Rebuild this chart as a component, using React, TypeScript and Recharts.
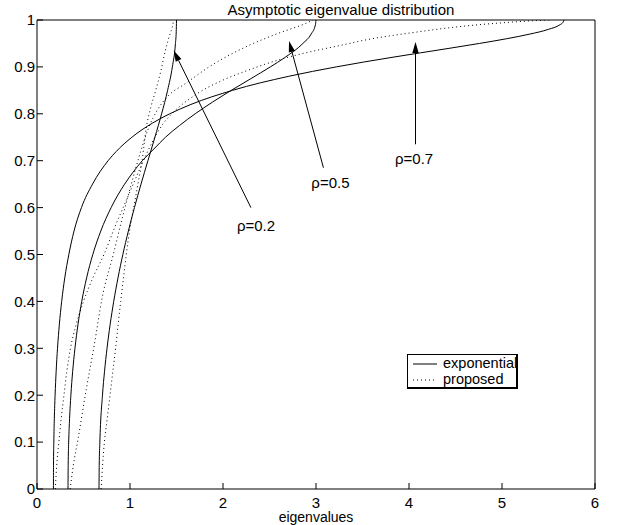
import React from "react";
import { Legend, Line, LineChart, ReferenceDot, ReferenceLine, XAxis, YAxis } from "recharts";

// exponential correlation model, eigenvalue CDF [eigenvalue, fraction]
const exp02: [number, number][] = [
  [0.6667, 0], [0.669, 0.05], [0.6759, 0.1], [0.704, 0.2], [0.7257, 0.25], [0.7529, 0.3],
  [0.7859, 0.35], [0.825, 0.4], [0.8707, 0.45], [0.9231, 0.5], [0.9822, 0.55], [1.0476, 0.6],
  [1.1184, 0.65], [1.1927, 0.7], [1.2678, 0.75], [1.34, 0.8], [1.4044, 0.85], [1.4554, 0.9],
  [1.4886, 0.95], [1.4971, 0.975], [1.5, 1],
];
const exp05: [number, number][] = [
  [0.3333, 0], [0.3352, 0.05], [0.3407, 0.1], [0.3503, 0.15], [0.3643, 0.2], [0.3832, 0.25],
  [0.4081, 0.3], [0.4401, 0.35], [0.4811, 0.4], [0.5333, 0.45], [0.6, 0.5], [0.6858, 0.55],
  [0.797, 0.6], [0.942, 0.65], [1.031, 0.675], [1.1326, 0.7], [1.257, 0.725], [1.3815, 0.75],
  [1.532, 0.775], [1.7007, 0.8], [1.8875, 0.825], [2.089, 0.85], [2.3, 0.875], [2.509, 0.9],
  [2.665, 0.92], [2.859, 0.95], [2.948, 0.97], [2.994, 0.99], [3, 1],
];
const exp07: [number, number][] = [
  [0.1765, 0], [0.1775, 0.05], [0.1808, 0.1], [0.1863, 0.15], [0.1945, 0.2], [0.2057, 0.25],
  [0.2205, 0.3], [0.2399, 0.35], [0.2653, 0.4], [0.2984, 0.45], [0.3423, 0.5], [0.3981, 0.55],
  [0.4778, 0.6], [0.5969, 0.65], [0.7645, 0.7], [0.8534, 0.72], [1.02, 0.75], [1.24, 0.78],
  [1.427, 0.8], [1.656, 0.82], [2.102, 0.85], [2.708, 0.88], [3.218, 0.9], [3.806, 0.92],
  [4.123, 0.93], [4.757, 0.95], [5.048, 0.96], [5.3, 0.97], [5.498, 0.98], [5.624, 0.99],
  [5.656, 0.995], [5.667, 1],
];

// proposed model
const prop02: [number, number][] = [
  [0.69, 0], [0.705, 0.05], [0.725, 0.1], [0.755, 0.15], [0.785, 0.2], [0.815, 0.25],
  [0.845, 0.3], [0.872, 0.35], [0.9, 0.4], [0.93, 0.45], [0.96, 0.5], [0.995, 0.55],
  [1.04, 0.6], [1.085, 0.65], [1.13, 0.7], [1.175, 0.77], [1.224, 0.814], [1.276, 0.85],
  [1.33, 0.89], [1.38, 0.935], [1.43, 0.97], [1.455, 0.985], [1.47, 1],
];
const prop05: [number, number][] = [
  [0.357, 0], [0.39, 0.05], [0.44, 0.105], [0.53, 0.213], [0.615, 0.306], [0.7, 0.407],
  [0.82, 0.5], [0.92, 0.58], [1.0, 0.64], [1.1, 0.71], [1.2, 0.77], [1.3, 0.81],
  [1.41, 0.838], [1.6, 0.865], [1.85, 0.9], [2.27, 0.945], [2.6, 0.972], [2.88, 0.992],
  [2.97, 1],
];
const prop07: [number, number][] = [
  [0.197, 0], [0.212, 0.05], [0.235, 0.1], [0.26, 0.15], [0.29, 0.2], [0.32, 0.25],
  [0.36, 0.3], [0.42, 0.35], [0.5, 0.4], [0.6, 0.45], [0.72, 0.5], [0.84, 0.56],
  [0.97, 0.62], [1.1, 0.68], [1.24, 0.74], [1.36, 0.78], [1.45, 0.8], [1.7, 0.84],
  [1.99, 0.871], [2.19, 0.887], [2.6, 0.915], [3.0, 0.935], [3.22, 0.944], [3.6, 0.96],
  [4.0, 0.972], [4.5, 0.985], [5.0, 0.994], [5.3, 0.998], [5.5, 1],
];

const xTicks = [0, 1, 2, 3, 4, 5, 6];
const yTicks = [0, 0.1, 0.2, 0.3, 0.4, 0.5, 0.6, 0.7, 0.8, 0.9, 1];
const legendItems = [
  { name: "exponential", dash: undefined },
  { name: "proposed", dash: "1 3" },
];
// arrow annotations: tail -> tip, text position (data units)
const notes = [
  { label: "ρ=0.2", tail: [2.3, 0.6], tip: [1.47, 0.935], text: [2.15, 0.55] },
  { label: "ρ=0.5", tail: [3.08, 0.685], tip: [2.71, 0.955], text: [2.95, 0.642] },
  { label: "ρ=0.7", tail: [4.07, 0.735], tip: [4.07, 0.953], text: [3.85, 0.692] },
];

const font = "'Liberation Sans', Arial, Helvetica, sans-serif";
const toPts = (a: [number, number][]) => a.map(([x, y]) => ({ x, y }));

const Arrow = (props: any) => {
  const { x1, y1, x2, y2 } = props;
  const ang = Math.atan2(y2 - y1, x2 - x1);
  const len = 11;
  const half = 3.2;
  const bx = x2 - len * Math.cos(ang);
  const by = y2 - len * Math.sin(ang);
  const px = -Math.sin(ang) * half;
  const py = Math.cos(ang) * half;
  return (
    <g>
      <line x1={x1} y1={y1} x2={bx} y2={by} stroke="#000" strokeWidth={1} />
      <path d={`M${x2},${y2}L${bx + px},${by + py}L${bx - px},${by - py}Z`} fill="#000" />
    </g>
  );
};

const LegendBox = () => (
  <div
    style={{
      position: "relative",
      background: "#fff",
      borderTop: "1px solid #000",
      borderLeft: "1px solid #000",
      borderRight: "2px solid #000",
      borderBottom: "2px solid #000",
      width: 111,
      height: 35,
      boxSizing: "border-box",
      fontFamily: font,
      fontSize: 14.5,
      color: "#000",
      whiteSpace: "nowrap",
    }}
  >
    {legendItems.map((it, i) => (
      <React.Fragment key={it.name}>
        <svg width={26} height={4} style={{ position: "absolute", left: 5, top: 7 + i * 16 }}>
          <line x1={0} y1={2} x2={24} y2={2} stroke="#000" strokeDasharray={it.dash} />
        </svg>
        <span style={{ position: "absolute", left: 35, top: 1 + i * 16, lineHeight: "14px" }}>{it.name}</span>
      </React.Fragment>
    ))}
  </div>
);

const series = [
  { key: "e02", data: exp02, dash: undefined },
  { key: "e05", data: exp05, dash: undefined },
  { key: "e07", data: exp07, dash: undefined },
  { key: "p02", data: prop02, dash: "1 3" },
  { key: "p05", data: prop05, dash: "1 3" },
  { key: "p07", data: prop07, dash: "1 3" },
];

export default function App() {
  const tickStyle = { fill: "#000", fontSize: 15, fontFamily: font };
  return (
    <div style={{ position: "absolute", left: 0, top: 0, background: "#fff" }}>
      <LineChart width={643} height={525} margin={{ top: 19, right: 47, bottom: 0, left: 0 }}>
        <XAxis
          xAxisId="b"
          dataKey="x"
          type="number"
          domain={[0, 6]}
          ticks={xTicks}
          allowDataOverflow
          height={36}
          tickSize={-6}
          tickMargin={14}
          tick={tickStyle}
          axisLine={{ stroke: "#000" }}
          tickLine={{ stroke: "#000" }}
          label={{ value: "eigenvalues", position: "insideBottom", offset: 3, fill: "#000", fontSize: 14, fontFamily: font }}
        />
        <XAxis
          xAxisId="t"
          orientation="top"
          dataKey="x"
          type="number"
          domain={[0, 6]}
          ticks={xTicks}
          allowDataOverflow
          height={1}
          tickSize={-6}
          tick={false}
          axisLine={{ stroke: "#000" }}
          tickLine={{ stroke: "#000" }}
          label={{ value: "Asymptotic eigenvalue distribution", position: "top", offset: 4, dx: 25, fill: "#000", fontSize: 15, fontFamily: font }}
        />
        <YAxis
          yAxisId="l"
          type="number"
          domain={[0, 1]}
          ticks={yTicks}
          allowDataOverflow
          width={37}
          tickSize={-6}
          tickMargin={8}
          tick={tickStyle}
          axisLine={{ stroke: "#000" }}
          tickLine={{ stroke: "#000" }}
        />
        <YAxis
          yAxisId="r"
          orientation="right"
          type="number"
          domain={[0, 1]}
          ticks={yTicks}
          allowDataOverflow
          width={1}
          tickSize={-6}
          tick={false}
          axisLine={{ stroke: "#000" }}
          tickLine={{ stroke: "#000" }}
        />
        {series.map((s) => (
          <Line
            key={s.key}
            xAxisId="b"
            yAxisId="l"
            data={toPts(s.data)}
            dataKey="y"
            type="monotone"
            stroke="#000"
            strokeWidth={1}
            strokeDasharray={s.dash}
            dot={false}
            activeDot={false}
            isAnimationActive={false}
          />
        ))}
        {notes.map((n) => (
          <ReferenceLine
            key={n.label}
            xAxisId="b"
            yAxisId="l"
            segment={[
              { x: n.tail[0], y: n.tail[1] },
              { x: n.tip[0], y: n.tip[1] },
            ]}
            shape={Arrow}
            ifOverflow="visible"
          />
        ))}
        {notes.map((n) => (
          <ReferenceDot
            key={"t" + n.label}
            xAxisId="b"
            yAxisId="l"
            x={n.text[0]}
            y={n.text[1]}
            ifOverflow="visible"
            shape={(p: any) => (
              <text x={p.cx} y={p.cy} fontSize={15} fontFamily={font} fill="#000">
                {n.label}
              </text>
            )}
          />
        ))}
        <Legend
          layout="horizontal"
          verticalAlign="middle"
          align="center"
          content={() => <LegendBox />}
          wrapperStyle={{ position: "absolute", left: 407, top: 354, width: 111, height: 35 }}
        />
      </LineChart>
    </div>
  );
}
